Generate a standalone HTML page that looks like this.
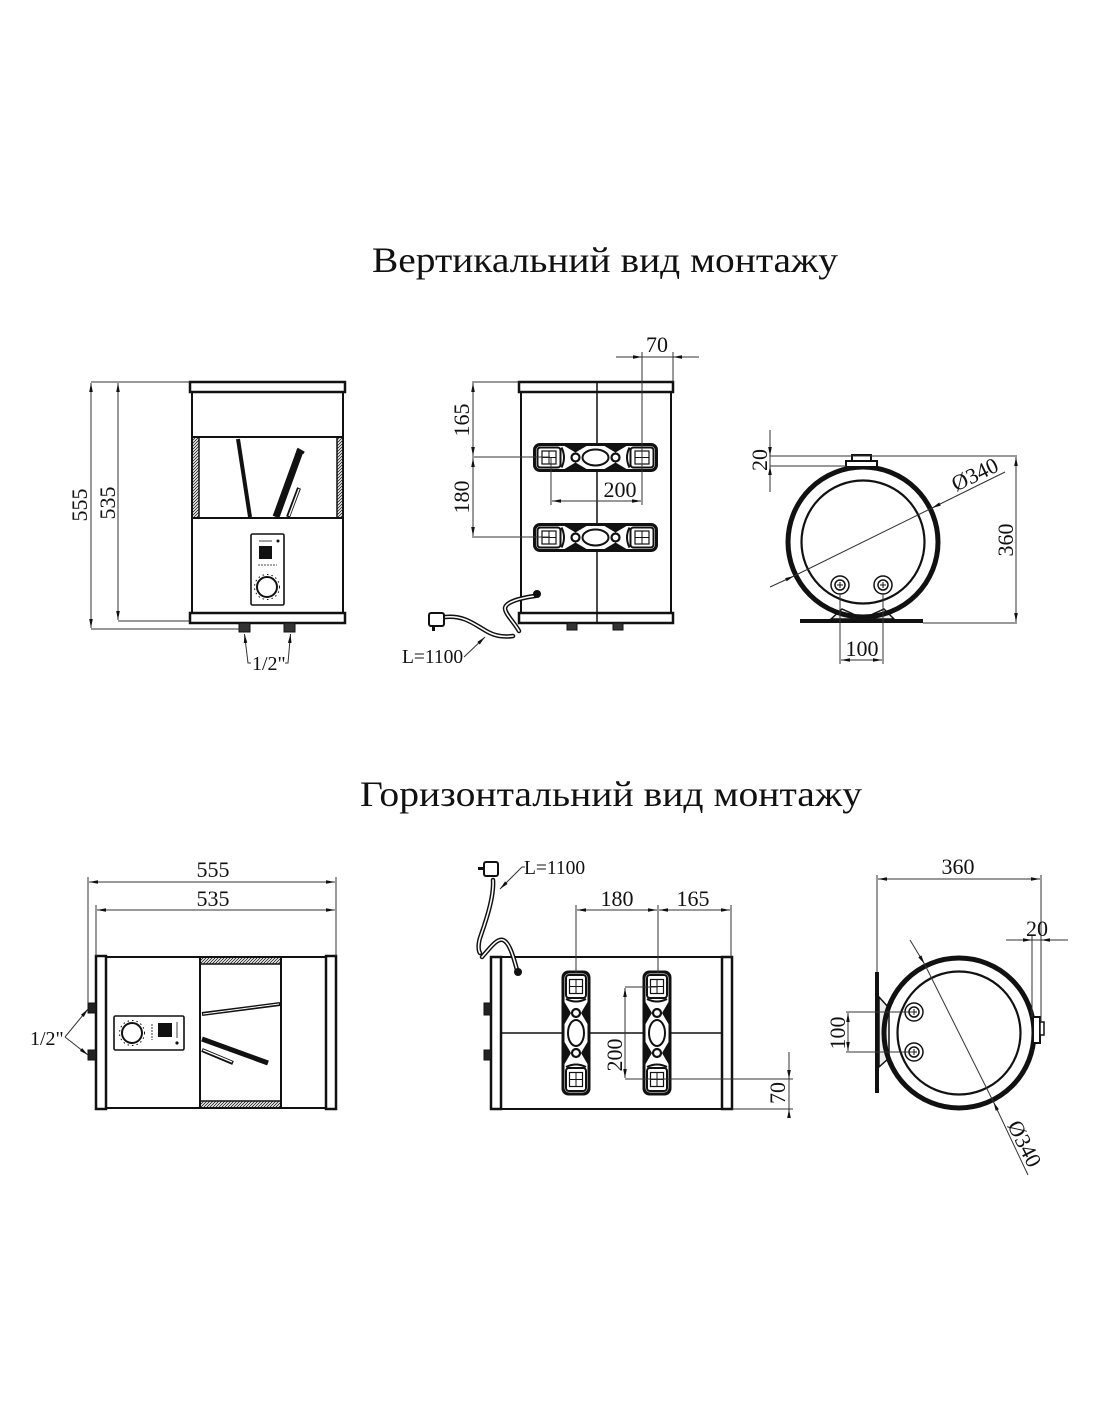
<!DOCTYPE html>
<html><head><meta charset="utf-8">
<style>
html,body{margin:0;padding:0;background:#fff;}
svg{display:block;}
text{font-family:"Liberation Serif","DejaVu Serif",serif;fill:#111;}
</style></head>
<body>
<svg width="1100" height="1422" viewBox="0 0 1100 1422" xmlns="http://www.w3.org/2000/svg">
<defs>
<marker id="ar" viewBox="0 0 10 4" refX="10" refY="2" markerWidth="9" markerHeight="3.6" markerUnits="userSpaceOnUse" orient="auto-start-reverse"><path d="M0,0 L10,2 L0,4 z" fill="#111"/></marker>
<pattern id="h" width="3" height="3" patternUnits="userSpaceOnUse"><path d="M-1,1 L1,-1 M0,3 L3,0 M2,4 L4,2" stroke="#222" stroke-width="0.9"/></pattern>
<g id="br">
 <rect x="-62.5" y="-14.5" width="125" height="29" rx="7" fill="#111"/>
 <rect x="-59.5" y="-11.5" width="119" height="23" rx="4.5" fill="#fff"/>
 <rect x="-58" y="-10" width="23" height="20" rx="3" fill="none" stroke="#111" stroke-width="2"/>
 <rect x="-53.5" y="-6.5" width="14" height="13" fill="none" stroke="#111" stroke-width="1.2"/>
 <path d="M-46.5,-6.5V6.5M-53.5,0H-39.5" stroke="#111" stroke-width="1"/>
 <rect x="35" y="-10" width="23" height="20" rx="3" fill="none" stroke="#111" stroke-width="2"/>
 <rect x="39.5" y="-6.5" width="14" height="13" fill="none" stroke="#111" stroke-width="1.2"/>
 <path d="M46.5,-6.5V6.5M39.5,0H53.5" stroke="#111" stroke-width="1"/>
 <path d="M-31,-11.5 L-9,-11.5 L-20,-5 Z M-31,11.5 L-9,11.5 L-20,5 Z M31,-11.5 L9,-11.5 L20,-5 Z M31,11.5 L9,11.5 L20,5 Z" fill="#111"/>
 <path d="M-34,-10 Q-29,0 -34,10 M34,-10 Q29,0 34,10" fill="none" stroke="#111" stroke-width="2"/>
 <ellipse cx="0" cy="0" rx="13" ry="8" fill="#fff" stroke="#111" stroke-width="2"/>
 <circle cx="-20" cy="0" r="4" fill="#fff" stroke="#111" stroke-width="2.2"/>
 <circle cx="20" cy="0" r="4" fill="#fff" stroke="#111" stroke-width="2.2"/>
</g>
</defs>
<rect width="1100" height="1422" fill="#fff"/>

<!-- Titles -->
<text x="372" y="272" font-size="36" textLength="466" lengthAdjust="spacingAndGlyphs">Вертикальний вид монтажу</text>
<text x="360" y="806" font-size="36" textLength="502" lengthAdjust="spacingAndGlyphs">Горизонтальний вид монтажу</text>

<!-- ================= TOP LEFT ================= -->
<g stroke="#111" fill="none">
 <rect x="192" y="392" width="151" height="221" stroke-width="2"/>
 <rect x="190" y="382" width="155" height="10" stroke-width="2.5" fill="#fff"/>
 <rect x="190" y="613" width="155" height="10" stroke-width="2.5" fill="#fff"/>
 <line x1="192" y1="437" x2="343" y2="437" stroke-width="2"/>
 <line x1="192" y1="518" x2="343" y2="518" stroke-width="2"/>
 <rect x="193" y="438" width="6" height="79" fill="url(#h)" stroke="none"/>
 <rect x="337" y="438" width="6" height="79" fill="url(#h)" stroke="none"/>
 <line x1="199" y1="437" x2="199" y2="518" stroke-width="1.5"/>
 <line x1="337" y1="437" x2="337" y2="518" stroke-width="1.5"/>
 <line x1="238" y1="439" x2="250" y2="517" stroke-width="4"/>
 <line x1="300" y1="451" x2="276" y2="517" stroke-width="7"/>
 <path d="M297,449 L304,453" stroke-width="3"/>
 <line x1="299" y1="488" x2="288" y2="517" stroke-width="4"/>
 <line x1="299" y1="489" x2="289" y2="516" stroke="#fff" stroke-width="1.3"/>
 <rect x="251" y="534" width="33" height="71" rx="1.5" stroke-width="1.6"/>
 <rect x="259" y="546" width="13" height="13" fill="#111" stroke="none"/>
 <line x1="259" y1="541" x2="272" y2="541" stroke-width="0.8"/>
 <circle cx="278" cy="541" r="1.5" fill="#111" stroke="none"/>
 <line x1="258" y1="565" x2="277" y2="565" stroke-width="0.8" stroke-dasharray="2 1"/>
 <circle cx="267" cy="587" r="10" stroke-width="2"/>
 <circle cx="267" cy="587" r="12.5" stroke-width="1" stroke-dasharray="1.5 3"/>
 <rect x="239" y="623" width="11" height="9" fill="#333" stroke-width="1"/>
 <rect x="284" y="623" width="11" height="9" fill="#333" stroke-width="1"/>
</g>
<g stroke="#333" stroke-width="1" fill="none">
 <line x1="91" y1="382" x2="190" y2="382"/>
 <line x1="91" y1="629" x2="240" y2="629"/>
 <line x1="118" y1="621" x2="190" y2="621"/>
 <line x1="91" y1="383" x2="91" y2="628" marker-start="url(#ar)" marker-end="url(#ar)"/>
 <line x1="118" y1="383" x2="118" y2="620" marker-start="url(#ar)" marker-end="url(#ar)"/>
 <polyline points="251,663 248,663 244.5,634" marker-end="url(#ar)"/>
 <polyline points="285,663 288,663 290.5,634" marker-end="url(#ar)"/>
</g>
<text transform="translate(87,505) rotate(-90)" font-size="22" text-anchor="middle">555</text>
<text transform="translate(115,503) rotate(-90)" font-size="22" text-anchor="middle">535</text>
<text x="252" y="670" font-size="20">1/2"</text>

<!-- ================= TOP MIDDLE ================= -->
<g stroke="#111" fill="none">
 <rect x="521" y="392" width="150" height="221" stroke-width="2"/>
 <rect x="519" y="382" width="154" height="10" stroke-width="2.5" fill="#fff"/>
 <rect x="519" y="613" width="154" height="10" stroke-width="2.5" fill="#fff"/>
 <line x1="597" y1="382" x2="597" y2="623" stroke-width="1.5"/>
 <rect x="567" y="623" width="10" height="7" fill="#333" stroke-width="1"/>
 <rect x="613" y="623" width="10" height="7" fill="#333" stroke-width="1"/>
</g>
<use href="#br" transform="translate(595.5,457.5)"/>
<use href="#br" transform="translate(595.5,537.5)"/>
<!-- cable -->
<g fill="none" stroke-linecap="round">
 <path d="M535,596 C520,598 506,602 505,608 C505,614 514,622 519,631" stroke="#111" stroke-width="4.5"/>
 <path d="M535,596 C520,598 506,602 505,608 C505,614 514,622 519,631" stroke="#fff" stroke-width="1.6"/>
 <path d="M445,617 C465,615 475,625 488,632 C497,637 506,637 513,636" stroke="#111" stroke-width="4.5"/>
 <path d="M445,617 C465,615 475,625 488,632 C497,637 506,637 513,636" stroke="#fff" stroke-width="1.6"/>
</g>
<circle cx="537" cy="594" r="4" fill="#111"/>
<rect x="429" y="613" width="15" height="13" rx="2" fill="#fff" stroke="#111" stroke-width="2"/>
<rect x="432" y="626" width="3" height="5" fill="#111"/>
<g stroke="#333" stroke-width="1" fill="none">
 <line x1="464" y1="657" x2="485" y2="637" marker-end="url(#ar)"/>
 <line x1="472" y1="382" x2="519" y2="382"/>
 <line x1="472" y1="457" x2="550" y2="457"/>
 <line x1="472" y1="537" x2="550" y2="537"/>
 <line x1="473" y1="383" x2="473" y2="456" marker-start="url(#ar)" marker-end="url(#ar)"/>
 <line x1="473" y1="458" x2="473" y2="536" marker-start="url(#ar)" marker-end="url(#ar)"/>
 <line x1="551" y1="457" x2="551" y2="505"/>
 <line x1="642" y1="352" x2="642" y2="505"/>
 <line x1="552" y1="501" x2="641" y2="501" marker-start="url(#ar)" marker-end="url(#ar)"/>
 <line x1="673" y1="352" x2="673" y2="382"/>
 <line x1="616" y1="357" x2="699" y2="357"/>
 <line x1="620" y1="357" x2="642" y2="357" marker-end="url(#ar)"/>
 <line x1="695" y1="357" x2="673" y2="357" marker-end="url(#ar)"/>
</g>
<text x="402" y="663" font-size="19.5">L=1100</text>
<text transform="translate(469,420) rotate(-90)" font-size="22" text-anchor="middle">165</text>
<text transform="translate(469,497) rotate(-90)" font-size="22" text-anchor="middle">180</text>
<text x="620" y="497" font-size="22" text-anchor="middle">200</text>
<text x="657" y="352" font-size="22" text-anchor="middle">70</text>

<!-- ================= TOP RIGHT ================= -->
<g stroke="#111" fill="none">
 <path d="M831,619 L842,609 L853,614 L853,619 Z M894,619 L884,609 L873,614 L873,619 Z" fill="#eee" stroke-width="1.5"/>
 <rect x="800" y="619" width="123" height="4" fill="#111" stroke="none"/>
 <circle cx="863" cy="542" r="75" stroke-width="5"/>
 <circle cx="863" cy="542" r="61.5" stroke-width="2.2"/>
 <rect x="846" y="461" width="31" height="6" fill="#fff" stroke-width="2"/>
 <rect x="852" y="455" width="19" height="6" fill="#fff" stroke-width="2"/>
 <circle cx="840" cy="585" r="9" stroke-width="1.5"/>
 <circle cx="840" cy="585" r="5" stroke-width="1.5"/>
 <path d="M837,585H843M840,582V588" stroke-width="1"/>
 <circle cx="883" cy="585" r="9" stroke-width="1.5"/>
 <circle cx="883" cy="585" r="5" stroke-width="1.5"/>
 <path d="M880,585H886M883,582V588" stroke-width="1"/>
</g>
<g stroke="#333" stroke-width="1" fill="none">
 <line x1="770" y1="430" x2="770" y2="492"/>
 <line x1="770" y1="434" x2="770" y2="456" marker-end="url(#ar)"/>
 <line x1="770" y1="488" x2="770" y2="466" marker-end="url(#ar)"/>
 <line x1="770" y1="456" x2="1017" y2="456"/>
 <line x1="770" y1="466" x2="846" y2="466"/>
 <line x1="923" y1="623" x2="1017" y2="623"/>
 <line x1="1016" y1="457" x2="1016" y2="622" marker-start="url(#ar)" marker-end="url(#ar)"/>
 <line x1="794" y1="576" x2="932" y2="508"/>
 <line x1="770" y1="587" x2="794" y2="576" marker-end="url(#ar)"/>
 <line x1="1005" y1="472" x2="932" y2="508" marker-end="url(#ar)"/>
 <line x1="840" y1="594" x2="840" y2="664"/>
 <line x1="883" y1="594" x2="883" y2="664"/>
 <line x1="841" y1="660" x2="882" y2="660" marker-start="url(#ar)" marker-end="url(#ar)"/>
</g>
<text transform="translate(767,460) rotate(-90)" font-size="22" text-anchor="middle">20</text>
<text transform="translate(1013,540) rotate(-90)" font-size="22" text-anchor="middle">360</text>
<text transform="translate(978,481) rotate(-26)" font-size="22" text-anchor="middle">Ø340</text>
<text x="862" y="656" font-size="22" text-anchor="middle">100</text>

<!-- ================= BOTTOM LEFT ================= -->
<g stroke="#111" fill="none">
 <rect x="106" y="957" width="220" height="151" stroke-width="2"/>
 <rect x="96" y="956" width="10" height="153" stroke-width="2.5" fill="#fff"/>
 <rect x="326" y="956" width="10" height="153" stroke-width="2.5" fill="#fff"/>
 <line x1="200" y1="957" x2="200" y2="1108" stroke-width="2"/>
 <line x1="281" y1="957" x2="281" y2="1108" stroke-width="2"/>
 <rect x="201" y="958" width="79" height="6" fill="url(#h)" stroke="none"/>
 <rect x="201" y="1101" width="79" height="6" fill="url(#h)" stroke="none"/>
 <line x1="200" y1="964" x2="281" y2="964" stroke-width="1.5"/>
 <line x1="200" y1="1101" x2="281" y2="1101" stroke-width="1.5"/>
 <line x1="202" y1="1014" x2="280" y2="1004" stroke-width="4"/>
 <line x1="203" y1="1014" x2="279" y2="1004" stroke="#fff" stroke-width="1"/>
 <line x1="202" y1="1039" x2="268" y2="1063" stroke-width="5"/>
 <line x1="202" y1="1050" x2="233" y2="1063" stroke-width="4"/>
 <line x1="203" y1="1050" x2="232" y2="1062" stroke="#fff" stroke-width="1.3"/>
 <rect x="114" y="1016" width="70" height="34" rx="1.5" stroke-width="1.6"/>
 <circle cx="132" cy="1033" r="10" stroke-width="2"/>
 <circle cx="132" cy="1033" r="12.5" stroke-width="1" stroke-dasharray="1.5 3"/>
 <rect x="158" y="1023" width="14" height="14" fill="#111" stroke="none"/>
 <line x1="177" y1="1022" x2="177" y2="1038" stroke-width="0.8"/>
 <circle cx="177" cy="1043" r="1.6" fill="#111" stroke="none"/>
 <line x1="152" y1="1024" x2="152" y2="1040" stroke-width="0.8" stroke-dasharray="2 1"/>
 <rect x="88" y="1003" width="8" height="10" fill="#222" stroke-width="1"/>
 <rect x="88" y="1050" width="8" height="10" fill="#222" stroke-width="1"/>
</g>
<g stroke="#333" stroke-width="1" fill="none">
 <line x1="88" y1="877" x2="88" y2="1003"/>
 <line x1="96" y1="905" x2="96" y2="956"/>
 <line x1="336" y1="877" x2="336" y2="956"/>
 <line x1="89" y1="882" x2="335" y2="882" marker-start="url(#ar)" marker-end="url(#ar)"/>
 <line x1="97" y1="910" x2="335" y2="910" marker-start="url(#ar)" marker-end="url(#ar)"/>
 <line x1="65" y1="1037" x2="88" y2="1009" marker-end="url(#ar)"/>
 <line x1="65" y1="1037" x2="88" y2="1055" marker-end="url(#ar)"/>
</g>
<text x="213" y="877" font-size="22" text-anchor="middle">555</text>
<text x="213" y="906" font-size="22" text-anchor="middle">535</text>
<text x="30" y="1045" font-size="20">1/2"</text>

<!-- ================= BOTTOM MIDDLE ================= -->
<g stroke="#111" fill="none">
 <rect x="501" y="957" width="221" height="152" stroke-width="2"/>
 <rect x="491" y="957" width="10" height="152" stroke-width="2.5" fill="#fff"/>
 <rect x="722" y="957" width="10" height="152" stroke-width="2.5" fill="#fff"/>
 <line x1="501" y1="1033" x2="722" y2="1033" stroke-width="1.5"/>
 <rect x="484" y="1003" width="7" height="12" fill="#222" stroke-width="1"/>
 <rect x="484" y="1050" width="7" height="10" fill="#222" stroke-width="1"/>
</g>
<use href="#br" transform="translate(576,1033) rotate(90)"/>
<use href="#br" transform="translate(657,1033) rotate(90)"/>
<g fill="none" stroke-linecap="round">
 <path d="M493,880 C494,895 488,915 481,935 C478,943 478,950 480,953" stroke="#111" stroke-width="4.5"/>
 <path d="M493,880 C494,895 488,915 481,935 C478,943 478,950 480,953" stroke="#fff" stroke-width="1.6"/>
 <path d="M482,957 C490,948 497,938 503,940 C509,942 513,955 517,970" stroke="#111" stroke-width="4.5"/>
 <path d="M482,957 C490,948 497,938 503,940 C509,942 513,955 517,970" stroke="#fff" stroke-width="1.6"/>
</g>
<circle cx="518" cy="972" r="4" fill="#111"/>
<rect x="484" y="862" width="14" height="14" rx="2" fill="#fff" stroke="#111" stroke-width="2"/>
<rect x="478" y="867" width="6" height="3" fill="#111"/>
<g stroke="#333" stroke-width="1" fill="none">
 <polyline points="525,867 522,867 500,889" marker-end="url(#ar)"/>
 <line x1="576" y1="905" x2="576" y2="973"/>
 <line x1="658" y1="905" x2="658" y2="973"/>
 <line x1="731" y1="905" x2="731" y2="957"/>
 <line x1="577" y1="910" x2="657" y2="910" marker-start="url(#ar)" marker-end="url(#ar)"/>
 <line x1="659" y1="910" x2="730" y2="910" marker-start="url(#ar)" marker-end="url(#ar)"/>
 <line x1="625" y1="987" x2="658" y2="987"/>
 <line x1="625" y1="1079" x2="793" y2="1079"/>
 <line x1="625" y1="988" x2="625" y2="1078" marker-start="url(#ar)" marker-end="url(#ar)"/>
 <line x1="732" y1="1109" x2="793" y2="1109"/>
 <line x1="789" y1="1052" x2="789" y2="1117"/>
 <line x1="789" y1="1056" x2="789" y2="1079" marker-end="url(#ar)"/>
 <line x1="789" y1="1117" x2="789" y2="1109" marker-end="url(#ar)"/>
</g>
<text x="524" y="874" font-size="19.5">L=1100</text>
<text x="617" y="906" font-size="22" text-anchor="middle">180</text>
<text x="693" y="906" font-size="22" text-anchor="middle">165</text>
<text transform="translate(622,1055) rotate(-90)" font-size="22" text-anchor="middle">200</text>
<text transform="translate(785,1093) rotate(-90)" font-size="22" text-anchor="middle">70</text>

<!-- ================= BOTTOM RIGHT ================= -->
<g stroke="#111" fill="none">
 <path d="M879,997 L889,1008 L889,1058 L879,1067 Z" fill="#eee" stroke-width="1.5"/>
 <line x1="877" y1="972" x2="877" y2="1093" stroke-width="4"/>
 <circle cx="959" cy="1033" r="75" stroke-width="5"/>
 <circle cx="959" cy="1033" r="61.5" stroke-width="2.2"/>
 <rect x="1033" y="1017" width="7" height="26" fill="#fff" stroke-width="2"/>
 <rect x="1040" y="1022" width="4" height="13" fill="#fff" stroke-width="1.5"/>
 <circle cx="914" cy="1012" r="9" stroke-width="1.5"/>
 <circle cx="914" cy="1012" r="5" stroke-width="1.5"/>
 <path d="M911,1012H917M914,1009V1015" stroke-width="1"/>
 <circle cx="914" cy="1052" r="9" stroke-width="1.5"/>
 <circle cx="914" cy="1052" r="5" stroke-width="1.5"/>
 <path d="M911,1052H917M914,1049V1055" stroke-width="1"/>
</g>
<g stroke="#333" stroke-width="1" fill="none">
 <line x1="877" y1="875" x2="877" y2="972"/>
 <line x1="1041" y1="875" x2="1041" y2="1022"/>
 <line x1="878" y1="879" x2="1040" y2="879" marker-start="url(#ar)" marker-end="url(#ar)"/>
 <line x1="1032" y1="935" x2="1032" y2="1017"/>
 <line x1="1006" y1="940" x2="1068" y2="940"/>
 <line x1="1010" y1="940" x2="1032" y2="940" marker-end="url(#ar)"/>
 <line x1="1064" y1="940" x2="1041" y2="940" marker-end="url(#ar)"/>
 <line x1="846" y1="1012" x2="914" y2="1012"/>
 <line x1="846" y1="1052" x2="914" y2="1052"/>
 <line x1="848" y1="1013" x2="848" y2="1051" marker-start="url(#ar)" marker-end="url(#ar)"/>
 <line x1="924.5" y1="964" x2="993.5" y2="1102"/>
 <line x1="910" y1="940" x2="924.5" y2="964" marker-end="url(#ar)"/>
 <line x1="1028" y1="1175" x2="993.5" y2="1102" marker-end="url(#ar)"/>
</g>
<text x="958" y="874" font-size="22" text-anchor="middle">360</text>
<text x="1037" y="936" font-size="22" text-anchor="middle">20</text>
<text transform="translate(845,1033) rotate(-90)" font-size="22" text-anchor="middle">100</text>
<text transform="translate(1018,1147) rotate(63.3)" font-size="22" text-anchor="middle">Ø340</text>
</svg>
</body></html>
